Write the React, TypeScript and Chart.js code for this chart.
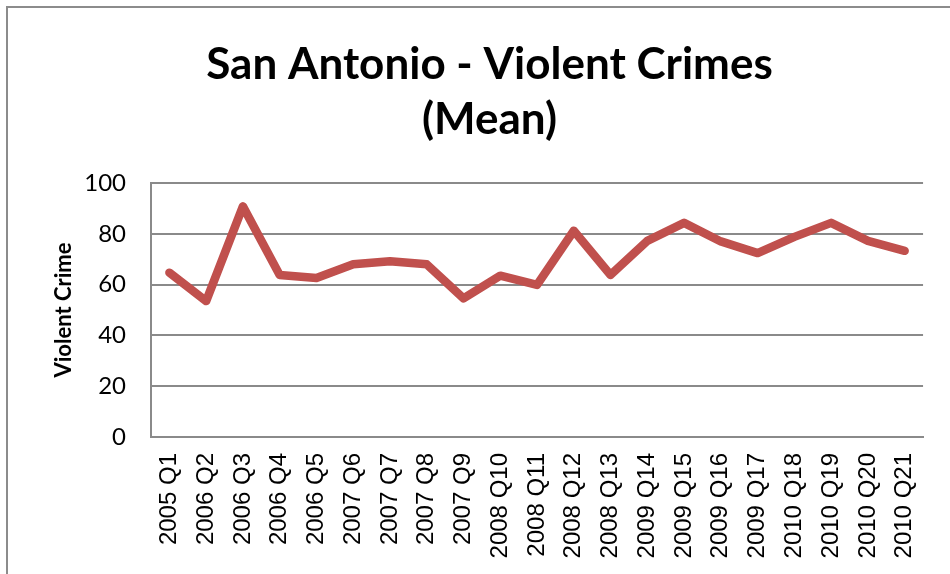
import React, { useEffect, useRef } from "react";
import { Chart, registerables } from "chart.js";

Chart.register(...registerables);

const titleLines = ["San Antonio - Violent Crimes", "(Mean)"];
const yAxisTitle = "Violent Crime";
const categories = [
  "2005 Q1", "2006 Q2", "2006 Q3", "2006 Q4", "2006 Q5", "2007 Q6", "2007 Q7",
  "2007 Q8", "2007 Q9", "2008 Q10", "2008 Q11", "2008 Q12", "2008 Q13", "2009 Q14",
  "2009 Q15", "2009 Q16", "2009 Q17", "2010 Q18", "2010 Q19", "2010 Q20", "2010 Q21",
];
const violentMean = [
  64.7, 53.5, 90.8, 63.8, 62.6, 68.0, 69.2, 68.0, 54.6, 63.5, 59.9,
  81.2, 63.8, 77.2, 84.3, 77.0, 72.4, 78.8, 84.3, 77.2, 73.3,
];
const yMin = 0;
const yMax = 100;
const yStep = 20;

export default function App() {
  const ref = useRef<HTMLCanvasElement | null>(null);

  useEffect(() => {
    if (!ref.current) return;
    const grid = "#8a8a8a";
    const chart = new Chart(ref.current, {
      type: "line",
      data: {
        labels: categories,
        datasets: [
          {
            label: "Violent Crime",
            data: violentMean,
            borderColor: "#C0504D",
            backgroundColor: "#C0504D",
            borderWidth: 8.5,
            pointRadius: 0,
            tension: 0,
            borderCapStyle: "round",
            borderJoinStyle: "round",
          },
        ],
      },
      options: {
        animation: false,
        responsive: false,
        maintainAspectRatio: false,
        layout: { padding: { left: 51, right: 22, top: 0, bottom: 0 } },
        plugins: {
          legend: { display: false },
          tooltip: { enabled: false },
          title: {
            display: true,
            text: titleLines,
            color: "#000",
            font: { family: "Lato", size: 44, weight: "bold", lineHeight: 1.25 },
            padding: { top: 37, bottom: 36 },
          },
        },
        scales: {
          x: {
            offset: true,
            grid: { display: false, drawTicks: false },
            border: { display: true, color: grid, width: 2 },
            ticks: {
              color: "#000",
              font: { family: "Liberation Sans", size: 24 },
              minRotation: 90,
              maxRotation: 90,
              autoSkip: false,
              padding: 16,
            },
            afterFit: (s: any) => {
              s.height = 137;
            },
          },
          y: {
            min: yMin,
            max: yMax,
            grid: { color: grid, lineWidth: 2, drawTicks: false },
            border: { display: true, color: grid, width: 2 },
            ticks: {
              stepSize: yStep,
              color: "#000",
              font: { family: "Lato", size: 24 },
              padding: 25,
            },
            title: {
              display: true,
              text: yAxisTitle,
              color: "#000",
              font: { family: "Lato", size: 22, weight: "bold", lineHeight: 1.2 },
              padding: 0,
            },
            afterFit: (s: any) => {
              s.width = 100;
            },
          },
        },
      },
    });
    return () => chart.destroy();
  }, []);

  return (
    <div style={{ position: "absolute", left: 0, top: 0, width: 950, height: 574, overflow: "hidden", background: "#fff" }}>
      <div
        style={{
          position: "absolute",
          left: 6,
          top: 6,
          width: 1000,
          height: 600,
          borderTop: "2px solid #8c8c8c",
          borderLeft: "2px solid #8c8c8c",
        }}
      />
      <canvas ref={ref} width={950} height={574} style={{ position: "absolute", left: 0, top: 0 }} />
    </div>
  );
}
